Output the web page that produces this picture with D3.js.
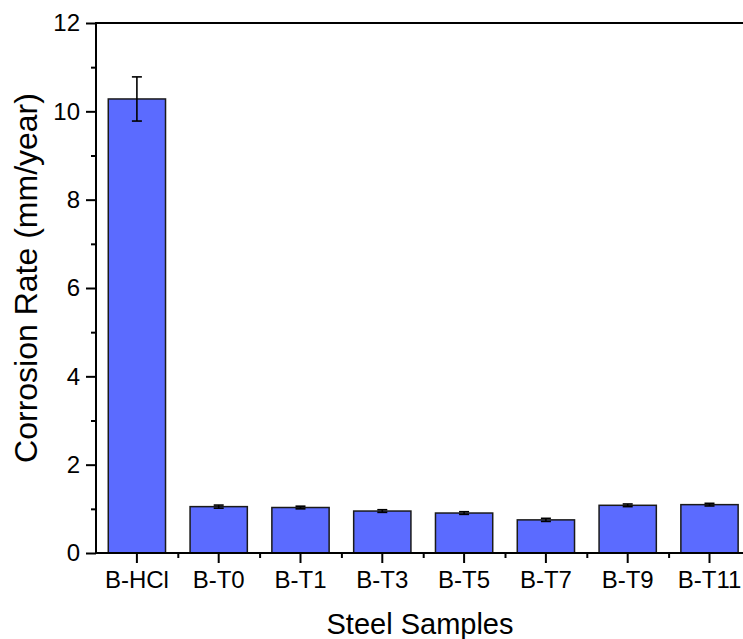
<!DOCTYPE html>
<html>
<head>
<meta charset="utf-8">
<script src="https://cdn.jsdelivr.net/npm/d3@7"></script>
<style>
  body { margin: 0; background: #fff; }
  svg { display: block; font-family: "Liberation Sans", Arial, sans-serif; }
</style>
</head>
<body>
<div id="chart-area"></div>
<script>
// data
var samples = ["B-HCl", "B-T0", "B-T1", "B-T3", "B-T5", "B-T7", "B-T9", "B-T11"];
var rates = [10.28, 1.05, 1.03, 0.95, 0.905, 0.75, 1.08, 1.095];
var errors = [0.5, 0.035, 0.03, 0.03, 0.03, 0.035, 0.03, 0.03];
var yTicks = [0, 2, 4, 6, 8, 10, 12];
var yMinor = [1, 3, 5, 7, 9, 11];

var W = 743, H = 639;
var margin = { left: 96, top: 23, bottom: 86 };
var plotBottom = H - margin.bottom;

var svg = d3.select("#chart-area")
  .append("svg")
    .attr("width", W)
    .attr("height", H);

// scales
var x = d3.scaleBand()
  .domain(samples)
  .range([margin.left, margin.left + 8 * 81.8])
  .paddingInner(0.3)
  .paddingOuter(0.15);
var y = d3.scaleLinear()
  .domain([0, 12])
  .range([plotBottom, margin.top]);

var step = x.step();
var xMinor = d3.range(1, samples.length).map(function(i){ return margin.left + i * step; });

// bars
svg.selectAll("rect.bar")
  .data(samples)
  .enter().append("rect")
    .attr("class", "bar")
    .attr("x", function(d){ return x(d); })
    .attr("width", x.bandwidth())
    .attr("y", function(d, i){ return y(rates[i]); })
    .attr("height", function(d, i){ return y(0) - y(rates[i]); })
    .attr("fill", "#5b6bff")
    .attr("stroke", "#1a1a1a")
    .attr("stroke-width", 1.5);

// error bars
var eb = svg.selectAll("g.err")
  .data(samples)
  .enter().append("g")
    .attr("class", "err")
    .attr("stroke", "#000")
    .attr("stroke-width", 1.6);
eb.append("line")
  .attr("x1", function(d){ return x(d) + x.bandwidth() / 2; })
  .attr("x2", function(d){ return x(d) + x.bandwidth() / 2; })
  .attr("y1", function(d, i){ return y(rates[i] + errors[i]); })
  .attr("y2", function(d, i){ return y(rates[i] - errors[i]); });
[1, -1].forEach(function(s){
  eb.append("line")
    .attr("x1", function(d){ return x(d) + x.bandwidth() / 2 - 5; })
    .attr("x2", function(d){ return x(d) + x.bandwidth() / 2 + 5; })
    .attr("y1", function(d, i){ return y(rates[i] + s * errors[i]); })
    .attr("y2", function(d, i){ return y(rates[i] + s * errors[i]); });
});

// y axis
var yAxisGroup = svg.append("g")
  .attr("transform", "translate(" + margin.left + ",0)")
  .call(d3.axisLeft(y).tickValues(yTicks).tickSize(10).tickSizeOuter(0).tickPadding(6));
svg.append("g")
  .attr("transform", "translate(" + margin.left + ",0)")
  .call(d3.axisLeft(y).tickValues(yMinor).tickSize(5).tickSizeOuter(0).tickFormat(""));

// x axis
var xAxisGroup = svg.append("g")
  .attr("transform", "translate(0," + plotBottom + ")")
  .call(d3.axisBottom(x).tickSize(10).tickSizeOuter(0).tickPadding(8));
var xs = d3.scaleLinear().domain([0, W]).range([0, W]);
svg.append("g")
  .attr("transform", "translate(0," + plotBottom + ")")
  .call(d3.axisBottom(xs).tickValues(xMinor).tickSize(5).tickSizeOuter(0).tickFormat(""));

svg.selectAll(".domain").remove();
svg.selectAll(".tick line").attr("stroke", "#000").attr("stroke-width", 2);
svg.selectAll(".tick text")
  .attr("fill", "#000")
  .attr("font-size", "24px")
  .attr("font-family", "'Liberation Sans', Arial, sans-serif");

// frame lines
svg.append("line")
  .attr("x1", margin.left).attr("x2", margin.left)
  .attr("y1", margin.top - 1).attr("y2", plotBottom + 1)
  .attr("stroke", "#000").attr("stroke-width", 2);
svg.append("line")
  .attr("x1", margin.left - 1).attr("x2", W)
  .attr("y1", plotBottom).attr("y2", plotBottom)
  .attr("stroke", "#000").attr("stroke-width", 2);
svg.append("line")
  .attr("x1", margin.left).attr("x2", W)
  .attr("y1", margin.top).attr("y2", margin.top)
  .attr("stroke", "#000").attr("stroke-width", 2);

// labels
svg.append("text")
  .attr("x", 420)
  .attr("y", 634)
  .attr("font-size", "29px")
  .attr("text-anchor", "middle")
  .text("Steel Samples");

svg.append("text")
  .attr("transform", "translate(37," + 278 + ") rotate(-90)")
  .attr("font-size", "32px")
  .attr("text-anchor", "middle")
  .text("Corrosion Rate (mm/year)");
</script>
</body>
</html>
